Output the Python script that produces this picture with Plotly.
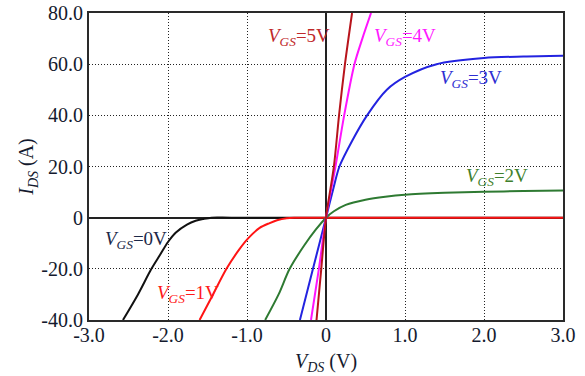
import plotly.graph_objects as go

# Output characteristics I_DS(V_DS) for several gate voltages
vgs0_v = [-2.57, -2.38, -2.21, -2.1, -2.0, -1.9, -1.76, -1.65, -1.55, -1.45, -1.2, 3.0]
vgs0_i = [-40, -30, -20, -14.5, -9.5, -5.8, -2.7, -1.2, -0.5, 0, 0, 0]

vgs1_v = [-1.6, -1.43, -1.26, -1.1, -0.98, -0.84, -0.72, -0.62, -0.5, -0.4, -0.2, 3.0]
vgs1_i = [-40, -30, -20, -12.5, -7.9, -4.0, -2.2, -1.0, -0.2, 0, 0, 0]

vgs2_v = [-0.77, -0.6, -0.46, -0.27, -0.13, 0, 0.1, 0.25, 0.5, 0.75, 1.0, 1.5, 2.0, 2.5, 3.0]
vgs2_i = [-40, -30, -20, -10.6, -4.7, 0, 2.5, 5.0, 7.0, 8.2, 9.0, 9.7, 10.1, 10.4, 10.6]

vgs3_v = [-0.33, -0.165, 0, 0.09, 0.17, 0.33, 0.52, 0.77, 1.0, 1.4, 2.0, 2.5, 3.0]
vgs3_i = [-40, -20, 0, 11, 20, 30, 40, 50, 55, 60, 62.4, 63, 63.3]

vgs4_v = [-0.19, -0.09, 0, 0.12, 0.23, 0.36, 0.46, 0.57]
vgs4_i = [-40, -20, 0, 20, 40, 60, 70, 80]

vgs5_v = [-0.12, -0.06, 0, 0.1, 0.165, 0.24, 0.33]
vgs5_i = [-40, -20, 0, 20, 40, 60, 80]

x_ticks = [-3, -2, -1, 0, 1, 2, 3]
x_tick_text = ["-3.0", "-2.0", "-1.0", "0", "1.0", "2.0", "3.0"]
y_ticks = [-40, -20, 0, 20, 40, 60, 80]
y_tick_text = ["-40.0", "-20.0", "0", "20.0", "40.0", "60.0", "80.0"]

FONT = "'Times New Roman', 'Liberation Serif', 'DejaVu Serif', serif"
TEXT_COLOR = "#141a2e"

curves = [
    (vgs0_v, vgs0_i, "#111111"),
    (vgs1_v, vgs1_i, "#ff1414"),
    (vgs2_v, vgs2_i, "#2e7a32"),
    (vgs3_v, vgs3_i, "#2323e0"),
    (vgs4_v, vgs4_i, "#ff14ff"),
    (vgs5_v, vgs5_i, "#b8141c"),
]

fig = go.Figure()
for xs, ys, col in curves:
    fig.add_trace(go.Scatter(
        x=xs, y=ys, mode="lines",
        line=dict(color=col, width=2, shape="spline", smoothing=0.8),
        showlegend=False, hoverinfo="skip",
    ))


def vgs_label(volts):
    return "<i>V</i><sub><i>GS</i></sub>=%dV" % volts


labels = [
    (0, -2.40, -8.8, "#1c2848"),
    (1, -1.75, -29.8, "#ff1a1a"),
    (2, 2.17, 15.8, "#3f7f2c"),
    (3, 1.84, 54.2, "#2e2ed2"),
    (4, 1.00, 70.6, "#ff1aff"),
    (5, -0.34, 70.6, "#c0282a"),
]
for volts, ax_x, ax_y, col in labels:
    fig.add_annotation(
        x=ax_x, y=ax_y, xref="x", yref="y", text=vgs_label(volts),
        showarrow=False, font=dict(family=FONT, size=19, color=col),
        xanchor="center", yanchor="middle",
    )

# x-axis title placed just under the tick labels
fig.add_annotation(
    x=0.5, y=-0.137, xref="paper", yref="paper",
    text="<i>V</i><sub><i>DS</i></sub> (V)", showarrow=False,
    font=dict(family=FONT, size=20, color=TEXT_COLOR),
    xanchor="center", yanchor="middle",
)

axis_common = dict(
    showgrid=True, gridcolor="#222222", griddash="1px,2px", gridwidth=1,
    zeroline=True, zerolinecolor="#222222", zerolinewidth=1.5,
    showline=True, linecolor="#2a2a2a", linewidth=2, mirror=True,
    automargin=False, layer="below traces",
    ticks="", tickfont=dict(family=FONT, size=20, color=TEXT_COLOR),
)

fig.update_xaxes(
    range=[-3, 3], tickvals=x_ticks, ticktext=x_tick_text,
    ticklabelstandoff=-4,
    **axis_common,
)
fig.update_yaxes(
    range=[-40, 80], tickvals=y_ticks, ticktext=y_tick_text,
    ticklabelstandoff=0,
    title=dict(text="<i>I</i><sub><i>DS</i></sub> (A)", standoff=2,
               font=dict(family=FONT, size=20, color=TEXT_COLOR)),
    **axis_common,
)

fig.update_layout(
    width=585, height=376,
    margin=dict(l=89, r=22, t=13, b=56, autoexpand=False),
    paper_bgcolor="white", plot_bgcolor="white",
    font=dict(family=FONT),
)

fig.write_html("out.html")
